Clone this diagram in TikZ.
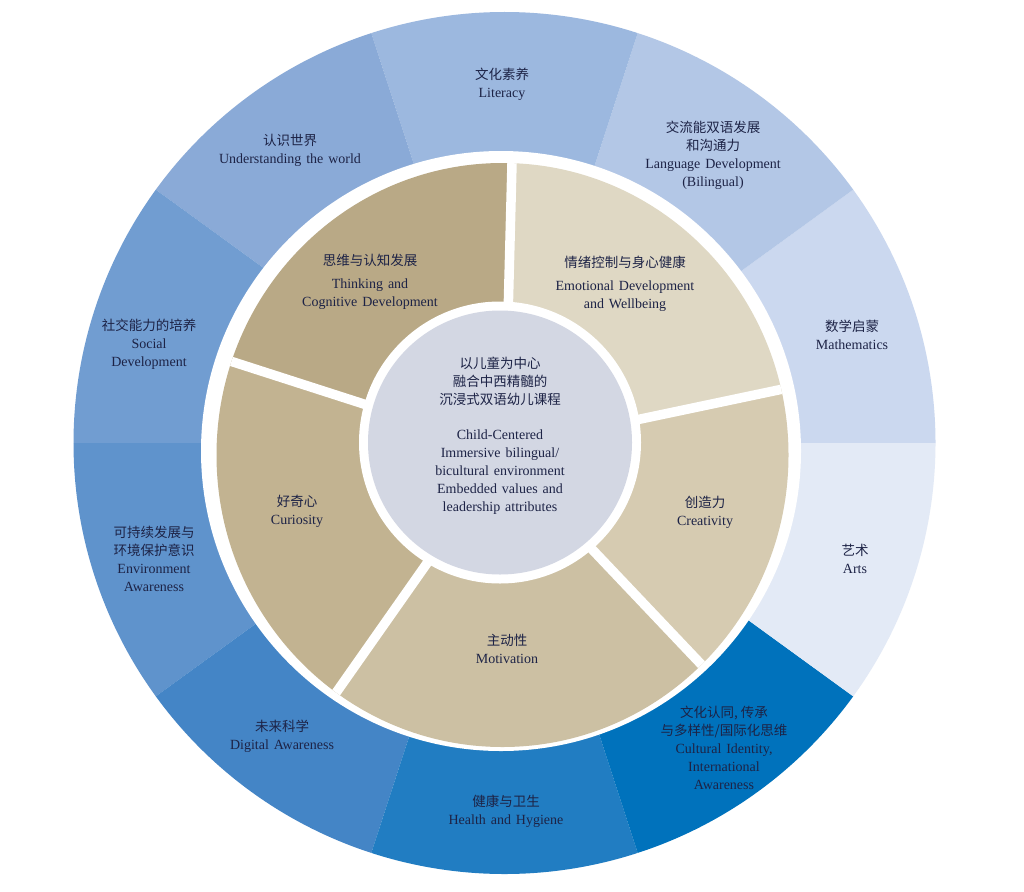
\documentclass[tikz,border=0pt]{standalone}
\usepackage{fontspec}
\setmainfont[WordSpace=1.4]{Liberation Serif}
\newfontfamily\cjk{Noto Sans CJK SC}
\newcommand\zh[1]{{\cjk\fontsize{13.5}{18}\selectfont #1}}
\definecolor{cLit}{HTML}{9CB8DF}
\definecolor{cUnd}{HTML}{8AAAD7}
\definecolor{cSoc}{HTML}{719DD1}
\definecolor{cEnv}{HTML}{5F93CC}
\definecolor{cDig}{HTML}{4485C6}
\definecolor{cHea}{HTML}{217DC2}
\definecolor{cCul}{HTML}{0072BC}
\definecolor{cArt}{HTML}{E3EAF6}
\definecolor{cMath}{HTML}{CBD8EF}
\definecolor{cLang}{HTML}{B3C7E6}
\definecolor{tThink}{HTML}{B9A986}
\definecolor{tCur}{HTML}{C2B391}
\definecolor{tMot}{HTML}{CCC0A3}
\definecolor{tCre}{HTML}{D6CBB1}
\definecolor{tEmo}{HTML}{DFD8C4}
\definecolor{hubc}{HTML}{D3D7E3}
\definecolor{txt}{HTML}{1D2346}
\begin{document}
\begin{tikzpicture}[x=1pt,y=-1pt,
  lbl/.style={align=center, text=txt, inner sep=0pt, font=\fontsize{14}{18}\selectfont},
  gapline/.style={white, line width=9.5pt}]
\useasboundingbox (0,0) rectangle (1024,891);
\fill[white] (0,0) rectangle (1024,891);
% outer ring
\coordinate (O) at (504.5,443);
\foreach \a/\c in {0/cMath,36/cLang,72/cLit,108/cUnd,144/cSoc,180/cEnv,216/cDig,252/cHea,288/cCul,324/cArt}{
  \fill[\c] (O) -- ++(\a:431pt) arc[start angle=\a, delta angle=36, radius=431pt] -- cycle;
}
\fill[white] (501,451) circle[radius=300pt];
% inner ring
\coordinate (T) at (502.5,455);
\coordinate (H) at (500,442.5);
\coordinate (I1) at (506.9,360);   \coordinate (O1) at (512.6,140);
\coordinate (I2) at (420,422.1);   \coordinate (O2) at (200,351.3);
\coordinate (I3) at (471.4,500);   \coordinate (O3) at (316.9,720);
\coordinate (I4) at (545.3,500);   \coordinate (O4) at (735,700);
\coordinate (I5) at (560,436);     \coordinate (O5) at (810,383.3);
\coordinate (Mth) at (244.4,86.4);
\coordinate (Mcu) at (74.5,594);
\coordinate (Mmo) at (533.9,903.9);
\coordinate (Mcr) at (932.3,588.1);
\coordinate (Mem) at (788.7,107.6);
\begin{scope}
  \clip (T) ellipse[x radius=286pt, y radius=292pt];
  \fill[tThink] (H) -- (I1) -- (O1) -- (Mth) -- (O2) -- (I2) -- cycle;
  \fill[tCur] (H) -- (I2) -- (O2) -- (Mcu) -- (O3) -- (I3) -- cycle;
  \fill[tMot] (H) -- (I3) -- (O3) -- (Mmo) -- (O4) -- (I4) -- cycle;
  \fill[tCre] (H) -- (I4) -- (O4) -- (Mcr) -- (O5) -- (I5) -- cycle;
  \fill[tEmo] (H) -- (I5) -- (O5) -- (Mem) -- (O1) -- (I1) -- cycle;
  \draw[gapline] (I1) -- (O1);
  \draw[gapline] (I2) -- (O2);
  \draw[gapline] (I3) -- (O3);
  \draw[gapline] (I4) -- (O4);
  \draw[gapline] (I5) -- (O5);
\end{scope}
% hub
\fill[white] (H) circle[radius=141pt];
\fill[hubc] (H) circle[radius=132pt];
% outer labels
\node[lbl] (lit) at (502,84.5) {\zh{文化素养}\\Literacy};
\node[lbl] (und) at (290,150.5) {\zh{认识世界}\\Understanding the world};
\node[lbl] (lang) at (713,155) {\zh{交流能双语发展}\\\zh{和沟通力}\\Language Development\\(Bilingual)};
\node[lbl] (math) at (852,334.5) {\zh{数学启蒙}\\Mathematics};
\node[lbl] (arts) at (855,559) {\zh{艺术}\\Arts};
\node[lbl] (cul) at (724,747.5) {\zh{文化认同, 传承}\\\zh{与多样性/国际化思维}\\Cultural Identity,\\International\\Awareness};
\node[lbl] (hea) at (506,811) {\zh{健康与卫生}\\Health and Hygiene};
\node[lbl] (dig) at (282,736.5) {\zh{未来科学}\\Digital Awareness};
\node[lbl] (env) at (154,559) {\zh{可持续发展与}\\\zh{环境保护意识}\\Environment\\Awareness};
\node[lbl] (soc) at (149,344) {\zh{社交能力的培养}\\Social\\Development};
% inner labels
\node[lbl] (think) at (370,282) {\zh{思维与认知发展}\\[5pt]Thinking and\\Cognitive Development};
\node[lbl] (emo) at (625,283.5) {\zh{情绪控制与身心健康}\\[5pt]Emotional Development\\and Wellbeing};
\node[lbl] (cur) at (297,511.5) {\zh{好奇心}\\Curiosity};
\node[lbl] (cre) at (705,512.5) {\zh{创造力}\\Creativity};
\node[lbl] (mot) at (507,649) {\zh{主动性}\\Motivation};
% hub label
\node[lbl] (hubtext) at (500,435.5) {\zh{以儿童为中心}\\\zh{融合中西精髓的}\\\zh{沉浸式双语幼儿课程}\\[17.5pt]Child-Centered\\Immersive bilingual/\\bicultural environment\\Embedded values and\\leadership attributes};
\end{tikzpicture}
\end{document}
